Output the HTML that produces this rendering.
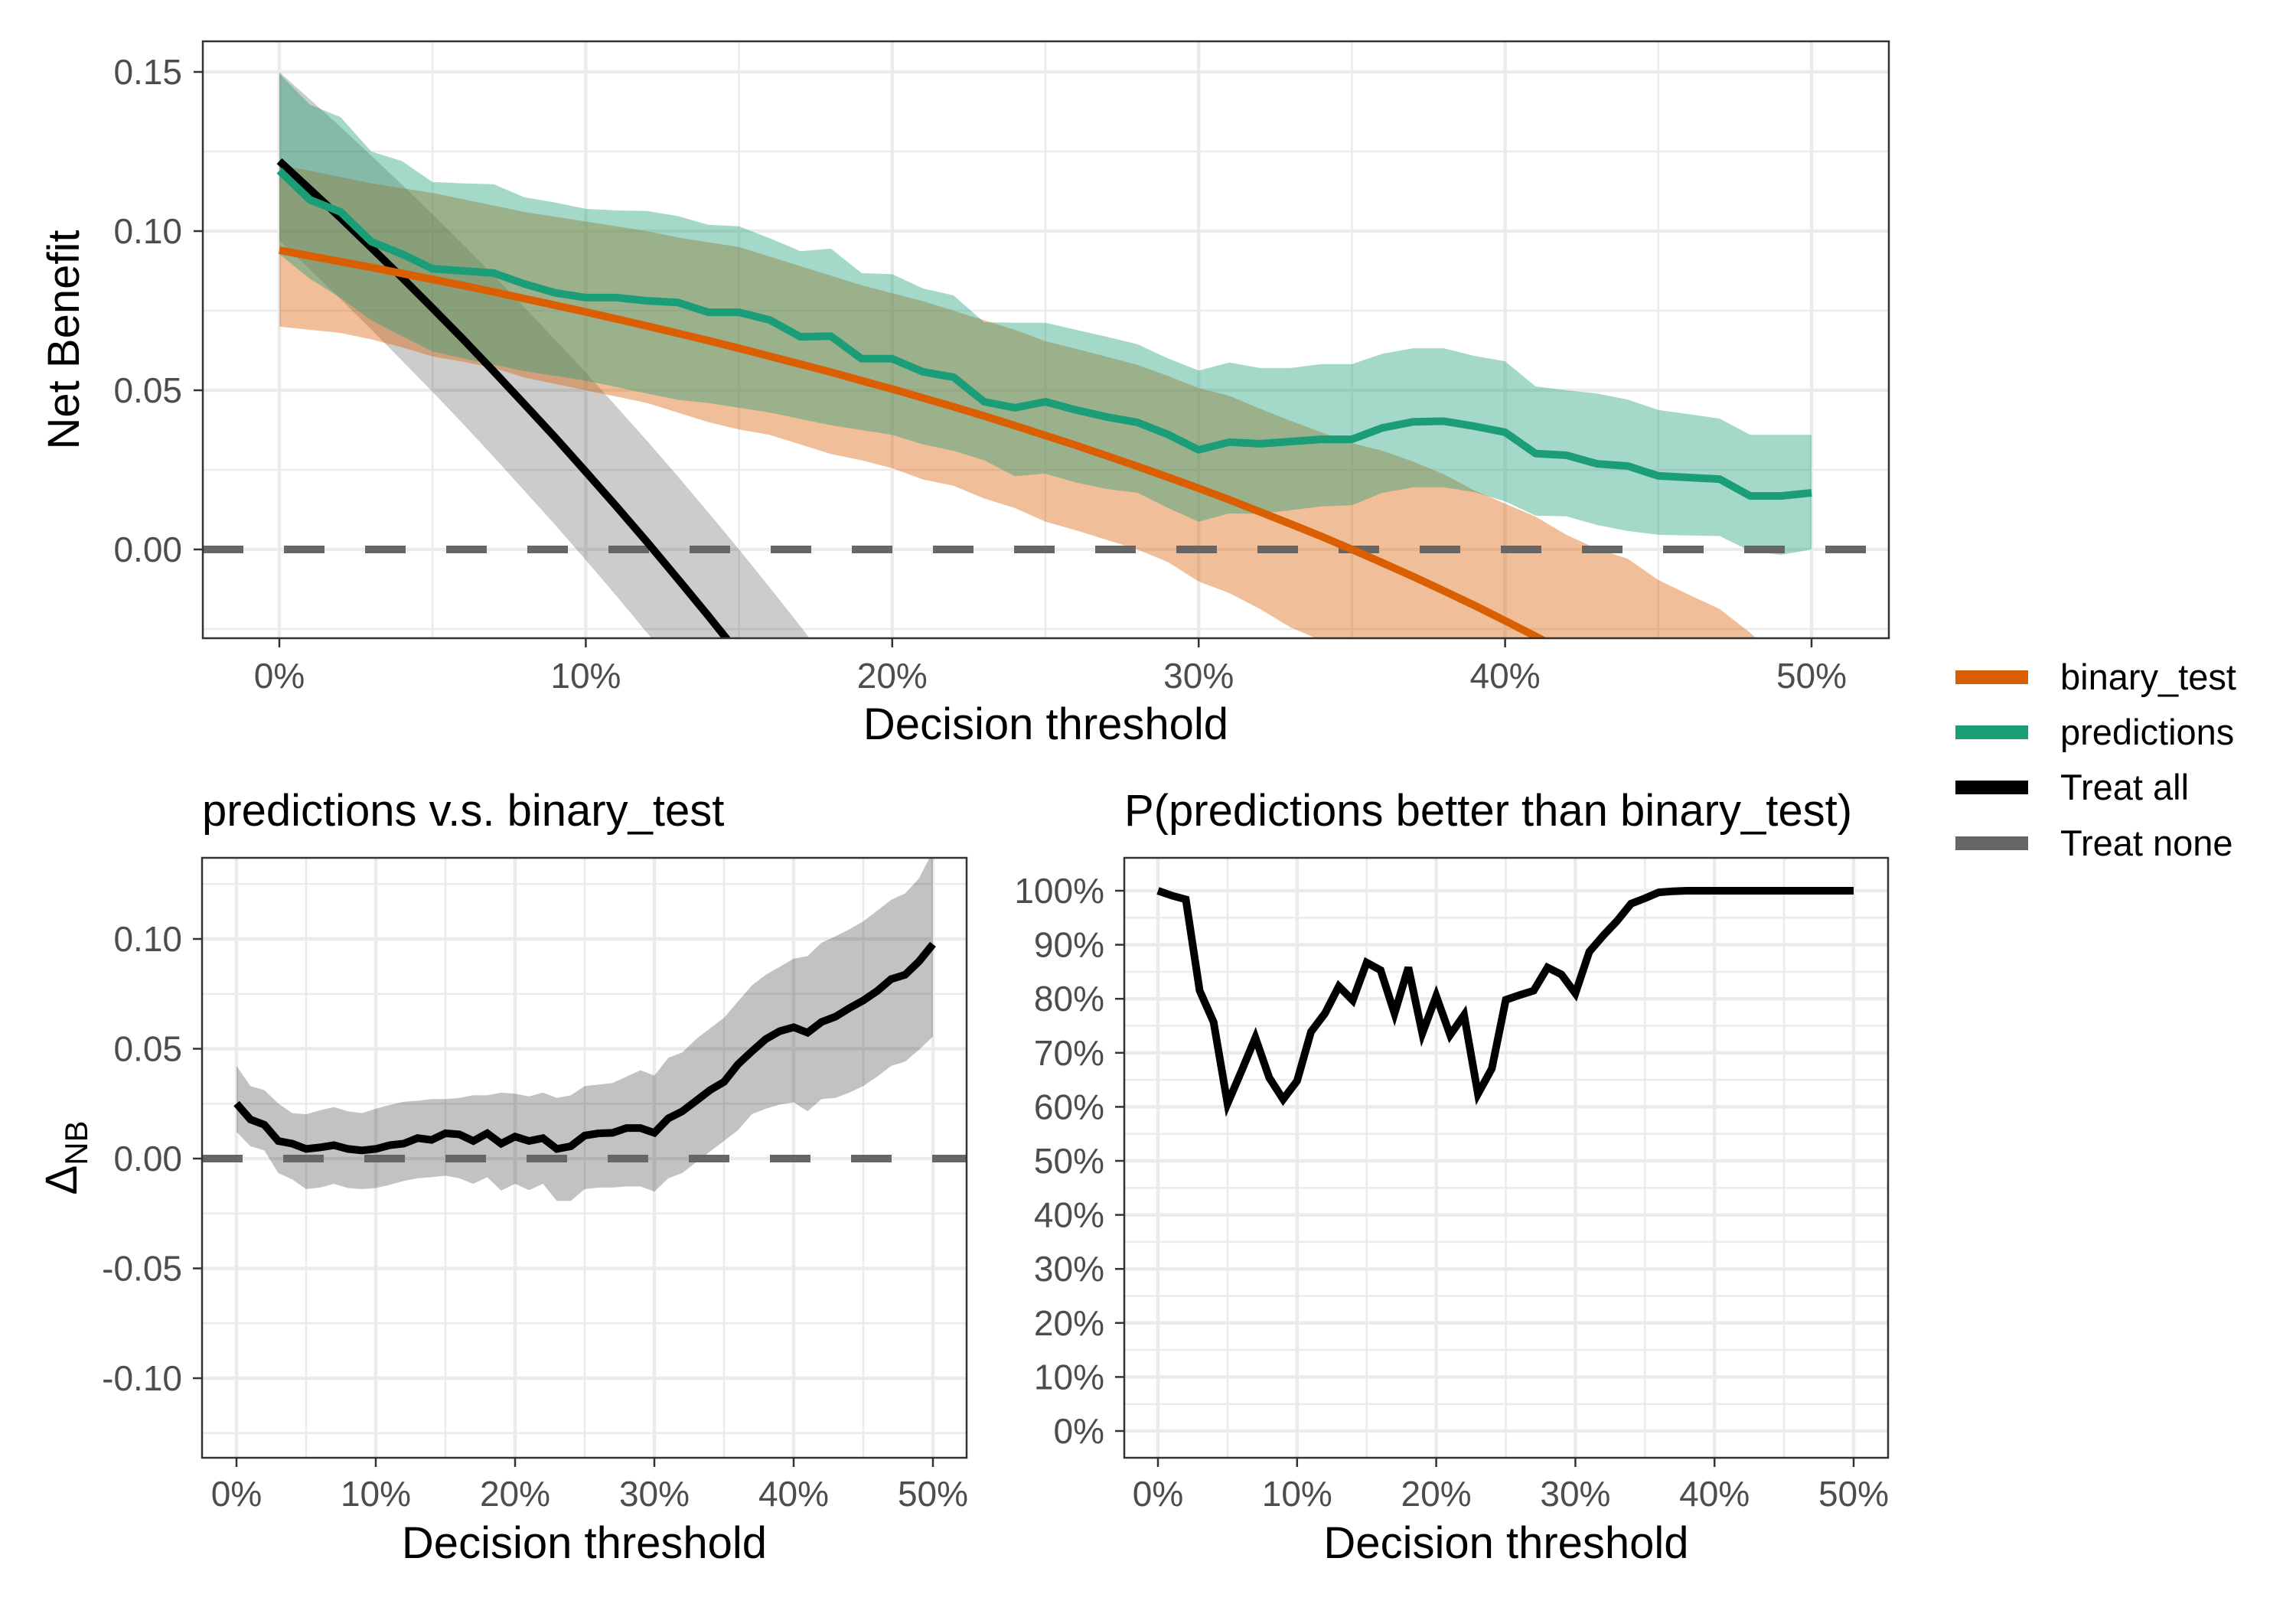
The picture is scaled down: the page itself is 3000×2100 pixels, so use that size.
<!DOCTYPE html>
<html><head><meta charset="utf-8"><style>
html,body{margin:0;padding:0;background:#fff}
svg{display:block}
text{font-family:"Liberation Sans",Arial,sans-serif}
</style></head><body>
<svg id="chart" width="3000" height="2100" viewBox="0 0 3000 2100" xmlns="http://www.w3.org/2000/svg">
<defs>
<clipPath id="clipTop"><rect x="265" y="54" width="2203" height="780"/></clipPath>
<clipPath id="clipBL"><rect x="264" y="1121" width="999" height="784"/></clipPath>
<clipPath id="clipBR"><rect x="1469" y="1121" width="998" height="784"/></clipPath>
</defs>
<g id="top"></g>
<g id="bl"></g>
<g id="br"></g>
<g id="legend"></g>
</svg>
<script>
// ---------- data ----------
const thresholds = [0,1,2,3,4,5,6,7,8,9,10,11,12,13,14,15,16,17,18,19,20,21,22,23,24,25,26,27,28,29,30,31,32,33,34,35,36,37,38,39,40,41,42,43,44,45,46,47,48,49,50];
const binaryLine = [.0940,.0922,.0904,.0886,.0867,.0848,.0829,.0809,.0788,.0767,.0746,.0724,.0702,.0679,.0656,.0632,.0607,.0582,.0557,.0530,.0504,.0476,.0448,.0419,.0389,.0358,.0327,.0294,.0261,.0227,.0192,.0156,.0118,.0080,.0041,.0000,-.0042,-.0085,-.0130,-.0176,-.0224,-.0273,-.0324,-.0377];
const binaryUpper = [.1207,.119,.117,.115,.1135,.112,.110,.108,.106,.1045,.103,.1015,.100,.098,.0965,.095,.092,.089,.086,.083,.0805,.078,.075,.072,.069,.0654,.063,.0605,.058,.0545,.0507,.0483,.0442,.0404,.0368,.0334,.031,.0276,.0236,.0185,.0144,.0103,.0046,.0002,-.0029,-.0096,-.0142,-.0187,-.0262,-.035,-.044];
const binaryLower = [.070,.069,.068,.066,.0635,.0606,.059,.057,.054,.052,.050,.048,.046,.043,.040,.0377,.036,.033,.030,.028,.0255,.022,.020,.016,.013,.0087,.006,.003,.000,-.004,-.0101,-.0137,-.0187,-.0245,-.0286,-.033,-.037,-.041,-.045,-.049,-.053,-.057,-.061,-.065,-.069,-.073,-.077,-.081,-.085,-.089,-.093];
const predLine = [.119,.1098,.106,.0967,.0928,.0882,.0875,.0868,.0834,.0806,.0791,.0791,.0781,.0776,.0745,.0745,.0721,.0668,.0670,.0599,.0599,.0558,.0541,.0464,.0445,.0464,.0438,.0416,.0399,.0361,.0313,.0337,.0332,.0339,.0346,.0346,.0382,.0401,.0403,.0387,.0368,.0301,.0296,.0269,.0262,.0231,.0226,.0221,.0168,.0168,.0178];
const predUpper = [.1495,.1397,.1358,.125,.122,.1154,.115,.1147,.1106,.109,.107,.1065,.1063,.1047,.102,.1015,.0978,.0937,.0945,.0868,.0865,.082,.0798,.0714,.0712,.0712,.069,.0668,.0645,.060,.0562,.0587,.057,.057,.0582,.0582,.0615,.0632,.0632,.0608,.0591,.0512,.050,.049,.0471,.0438,.0425,.0411,.036,.036,.036];
const predLower = [.0928,.085,.079,.072,.067,.0622,.060,.058,.056,.0545,.053,.051,.049,.047,.046,.0445,.043,.041,.039,.0375,.036,.033,.031,.028,.023,.0238,.021,.019,.0178,.013,.0087,.0113,.0112,.0123,.0135,.0139,.0178,.0195,.0195,.018,.0151,.0106,.0104,.0077,.0058,.0046,.0044,.0042,-.0005,-.0017,0];
const treatAllLine = [.122,.1131,.1041,.0948,.0854,.0758,.0660,.0559,.0456,.0352,.0244,.0135,.0023,-.0092,-.0209,-.0329];
const treatAllUpper = [.150,.1414,.1327,.1237,.1146,.1053,.0958,.0860,.0760,.0659,.0556,.0449,.0341,.0230,.0116,.0000,-.0119,-.0241,-.0366];
const treatAllLower = [.097,.0879,.0786,.0691,.0593,.0495,.0394,.0290,.0184,.0077,-.0033,-.0146,-.0262,-.0379,-.050,-.062,-.075,-.088,-.101];
const deltaLine = [.0251,.0178,.0154,.008,.0068,.0044,.0051,.0061,.0044,.0037,.0044,.0061,.0068,.0093,.0085,.0115,.011,.008,.0115,.0068,.01,.008,.0093,.0044,.0056,.0105,.0115,.0117,.0139,.0139,.0117,.0183,.0215,.0263,.0312,.0349,.0429,.0488,.0544,.058,.0598,.0573,.0622,.0646,.0685,.072,.0763,.0817,.0837,.0898,.0976];
const deltaUpper = [.0422,.033,.0312,.0251,.0207,.0202,.022,.0234,.0215,.0207,.0227,.0244,.0259,.0263,.0271,.0271,.0276,.0288,.0288,.03,.0295,.0283,.03,.0276,.0288,.033,.0337,.0344,.0373,.0402,.0378,.0459,.0483,.0544,.0593,.0641,.0715,.0788,.0837,.0873,.091,.0922,.0983,.1012,.1044,.108,.1129,.1178,.1207,.1276,.1400];
const deltaLower = [.0122,.0056,.0037,-.0066,-.0095,-.0139,-.0132,-.0115,-.0134,-.0139,-.0134,-.012,-.0102,-.009,-.0085,-.0078,-.009,-.0115,-.0085,-.0146,-.0115,-.0144,-.0115,-.0193,-.0193,-.0139,-.0132,-.0132,-.0127,-.0127,-.0151,-.009,-.0066,-.0017,.0032,.008,.0129,.0202,.0227,.0246,.0256,.0215,.0271,.0276,.03,.033,.0373,.0422,.0441,.0495,.0556];
const probBetter = [100,99.1,98.4,81.5,75.7,60.6,66.6,72.8,65.4,61.4,64.8,73.9,77.3,82.3,79.7,86.7,85.3,77.3,85.8,73.6,80.5,73.3,77,62.4,67.1,79.8,80.7,81.5,85.8,84.5,81,88.7,91.7,94.4,97.6,98.6,99.7,99.9,100,100,100,100,100,100,100,100,100,100,100,100,100];
const xTickLabels = ["0%","10%","20%","30%","40%","50%"];
const topYTicks = [0,0.05,0.10,0.15];
const topYLabels = ["0.00","0.05","0.10","0.15"];
const blYTicks = [-0.10,-0.05,0,0.05,0.10];
const blYLabels = ["-0.10","-0.05","0.00","0.05","0.10"];
const brYTicks = [0,10,20,30,40,50,60,70,80,90,100];
const brYLabels = ["0%","10%","20%","30%","40%","50%","60%","70%","80%","90%","100%"];
const legendLabels = ["binary_test","predictions","Treat all","Treat none"];

// ---------- helpers ----------
const NS="http://www.w3.org/2000/svg";
const TICK_FS=46, TITLE_FS=58, PTITLE_FS=58;
function mk(parent,tag,attrs,txt){const e=document.createElementNS(NS,tag);for(const k in attrs)e.setAttribute(k,attrs[k]);if(txt!==undefined)e.textContent=txt;parent.appendChild(e);return e;}
function lin(d0,d1,r0,r1){return v=>r0+(v-d0)*(r1-r0)/(d1-d0);}
function linePath(xs,ys,X,Y){return ys.map((v,i)=>(i?"L":"M")+X(xs[i]).toFixed(1)+","+Y(v).toFixed(1)).join("");}
function bandPath(xs,up,lo,X,Y){let d=up.map((v,i)=>(i?"L":"M")+X(xs[i]).toFixed(1)+","+Y(v).toFixed(1)).join("");for(let i=lo.length-1;i>=0;i--)d+="L"+X(xs[i]).toFixed(1)+","+Y(lo[i]).toFixed(1);return d+"Z";}

function frame(g,P,X,Y,xMaj,xMin,yMaj,yMin,yLabels,clip){
  const bg=mk(g,"rect",{x:P.l,y:P.t,width:P.r-P.l,height:P.b-P.t,fill:"#fff"});
  
  
  const grid=mk(g,"g",{});
  
  
  xMin.forEach(v=>mk(grid,"line",{x1:X(v),x2:X(v),y1:P.t,y2:P.b,stroke:"#EBEBEB","stroke-width":2.5}));
  yMin.forEach(v=>mk(grid,"line",{x1:P.l,x2:P.r,y1:Y(v),y2:Y(v),stroke:"#EBEBEB","stroke-width":2.5}));
  xMaj.forEach(v=>mk(grid,"line",{x1:X(v),x2:X(v),y1:P.t,y2:P.b,stroke:"#EBEBEB","stroke-width":4.5}));
  yMaj.forEach(v=>mk(grid,"line",{x1:P.l,x2:P.r,y1:Y(v),y2:Y(v),stroke:"#EBEBEB","stroke-width":4.5}));
  const marks=mk(g,"g",{"clip-path":"url(#"+clip+")"});
  return marks;
}
function axes(g,P,X,Y,xMaj,yMaj,yLabels,xLabY,yLabR){
  const border=mk(g,"rect",{x:P.l,y:P.t,width:P.r-P.l,height:P.b-P.t,fill:"none",stroke:"#333333","stroke-width":2.5});
  
  
  const xa=mk(g,"g",{});
  
  
  xMaj.forEach((v,i)=>{
    mk(xa,"line",{x1:X(v),x2:X(v),y1:P.b,y2:P.b+12,stroke:"#333","stroke-width":2.5});
    const t=mk(xa,"text",{x:X(v),y:xLabY,"text-anchor":"middle","font-size":TICK_FS,fill:"#4D4D4D"},xTickLabels[i]);
    
    
  });
  const ya=mk(g,"g",{});
  
  
  yMaj.forEach((v,i)=>{
    mk(ya,"line",{x1:P.l-12,x2:P.l,y1:Y(v),y2:Y(v),stroke:"#333","stroke-width":2.5});
    const t=mk(ya,"text",{x:yLabR,y:Y(v)+16,"text-anchor":"end","font-size":TICK_FS,fill:"#4D4D4D"},yLabels[i]);
    
    
  });
}
const xMaj=[0,10,20,30,40,50], xMin=[5,15,25,35,45];

// ---------- top panel ----------
(function(){
  const g=document.getElementById("top");
  const P={l:265,r:2468,t:54,b:834};
  const X=lin(0,50,365,2367), Y=lin(0,0.15,718,94);
  const m=frame(g,P,X,Y,xMaj,xMin,topYTicks,[-0.025,0.025,0.075,0.125],topYLabels,"clipTop");
  const ta=mk(m,"path",{d:bandPath(thresholds,treatAllUpper,treatAllLower,X,Y),fill:"#000","fill-opacity":0.2});
  
  
  const ob=mk(m,"path",{d:bandPath(thresholds,binaryUpper,binaryLower,X,Y),fill:"#D95F02","fill-opacity":0.4});
  
  
  const gb=mk(m,"path",{d:bandPath(thresholds,predUpper,predLower,X,Y),fill:"#1B9E77","fill-opacity":0.4});
  
  
  const tn=mk(m,"line",{x1:P.l,x2:P.r,y1:Y(0),y2:Y(0),stroke:"#666666","stroke-width":10,"stroke-dasharray":"53 53"});
  
  
  const tl=mk(m,"path",{d:linePath(thresholds,treatAllLine,X,Y),fill:"none",stroke:"#000","stroke-width":10});
  
  
  const ol=mk(m,"path",{d:linePath(thresholds,binaryLine,X,Y),fill:"none",stroke:"#D95F02","stroke-width":10});
  
  
  const pl=mk(m,"path",{d:linePath(thresholds,predLine,X,Y),fill:"none",stroke:"#1B9E77","stroke-width":10,"stroke-linejoin":"round"});
  
  
  axes(g,P,X,Y,xMaj,topYTicks,topYLabels,899,238);
  const xt=mk(g,"text",{x:(P.l+P.r)/2,y:966,"text-anchor":"middle","font-size":TITLE_FS,fill:"#000"},"Decision threshold");
  
  
  const yt=mk(g,"text",{x:0,y:0,transform:"translate(103,444) rotate(-90)","text-anchor":"middle","font-size":TITLE_FS,fill:"#000"},"Net Benefit");
  
  
})();

// ---------- bottom-left panel ----------
(function(){
  const g=document.getElementById("bl");
  const P={l:264,r:1263,t:1121,b:1905};
  const X=lin(0,50,309,1219), Y=lin(0,0.1,1514,1227);
  const m=frame(g,P,X,Y,xMaj,xMin,blYTicks,[-0.125,-0.075,-0.025,0.025,0.075,0.125],blYLabels,"clipBL");
  const b=mk(m,"path",{d:bandPath(thresholds,deltaUpper,deltaLower,X,Y),fill:"#000","fill-opacity":0.24});
  
  
  const z=mk(m,"line",{x1:P.l,x2:P.r,y1:Y(0),y2:Y(0),stroke:"#666666","stroke-width":10,"stroke-dasharray":"53 53"});
  
  
  const l=mk(m,"path",{d:linePath(thresholds,deltaLine,X,Y),fill:"none",stroke:"#000","stroke-width":10});
  
  
  axes(g,P,X,Y,xMaj,blYTicks,blYLabels,1968,238);
  const t=mk(g,"text",{x:264,y:1079,"font-size":PTITLE_FS,fill:"#000"},"predictions v.s. binary_test");
  
  
  const xt=mk(g,"text",{x:(P.l+P.r)/2,y:2036,"text-anchor":"middle","font-size":TITLE_FS,fill:"#000"},"Decision threshold");
  
  
  const yt=mk(g,"text",{x:0,y:0,transform:"translate(100,1513) rotate(-90)","text-anchor":"middle","font-size":TITLE_FS,fill:"#000"});
  
  
  mk(yt,"tspan",{},"Δ");
  mk(yt,"tspan",{"font-size":42,dy:14},"NB");
})();

// ---------- bottom-right panel ----------
(function(){
  const g=document.getElementById("br");
  const P={l:1469,r:2467,t:1121,b:1905};
  const X=lin(0,50,1513,2422), Y=lin(0,100,1870,1164);
  const m=frame(g,P,X,Y,xMaj,xMin,brYTicks,[5,15,25,35,45,55,65,75,85,95],brYLabels,"clipBR");
  const l=mk(m,"path",{d:linePath(thresholds,probBetter,X,Y),fill:"none",stroke:"#000","stroke-width":10});
  
  
  axes(g,P,X,Y,xMaj,brYTicks,brYLabels,1968,1443);
  const t=mk(g,"text",{x:1469,y:1079,"font-size":PTITLE_FS,fill:"#000"},"P(predictions better than binary_test)");
  
  
  const xt=mk(g,"text",{x:(P.l+P.r)/2,y:2036,"text-anchor":"middle","font-size":TITLE_FS,fill:"#000"},"Decision threshold");
  
  
})();

// ---------- legend ----------
(function(){
  const g=document.getElementById("legend");
  const cols=["#D95F02","#1B9E77","#000000","#666666"];
  const ys=[885,957,1029,1102];
  legendLabels.forEach((lab,i)=>{
    const e=mk(g,"g",{});
    
    
    mk(e,"rect",{x:2555,y:ys[i]-9,width:95,height:18,fill:cols[i]});
    mk(e,"text",{x:2692,y:ys[i]+16,"font-size":47,fill:"#000"},lab);
  });
})();
</script>
</body></html>
